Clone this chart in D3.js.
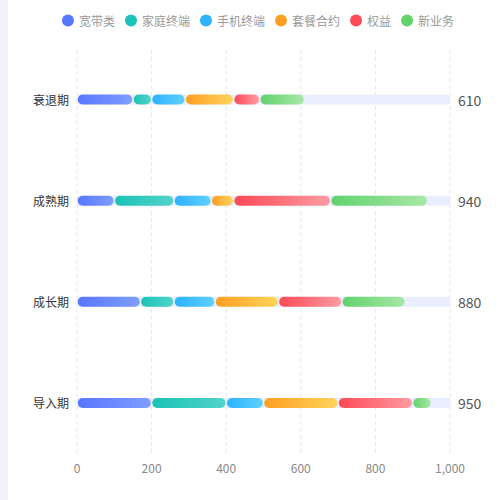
<!DOCTYPE html>
<html><head><meta charset="utf-8">
<script src="https://cdn.jsdelivr.net/npm/d3@7/dist/d3.min.js"></script>
<style>html,body{margin:0;padding:0;background:#fff;}svg{display:block;font-family:"Noto Sans CJK SC","Noto Sans",sans-serif;}</style>
</head><body>
<script>
const categories = ["导入期", "成长期", "成熟期", "衰退期"];
const seriesNames = ["宽带类", "家庭终端", "手机终端", "套餐合约", "权益", "新业务"];
const seriesValues = [
  [200, 170, 100, 150],
  [200, 90, 160, 50],
  [100, 110, 100, 90],
  [200, 170, 60, 130],
  [200, 170, 260, 70],
  [50, 170, 260, 120]
];
const totals = [950, 880, 940, 610];
const xTicks = [0, 200, 400, 600, 800, 1000];
const xMax = 1000;
const colorStops = [
  ["#5877ff", "#7f9dff"],
  ["#1bc2b6", "#52d3c8"],
  ["#2db2ff", "#5fd0ff"],
  ["#ff9f22", "#ffd45c"],
  ["#ff4a57", "#ff9ba2"],
  ["#62d26d", "#a8e7a6"]
];

(function () {
const W = 500, H = 500;
const svg = d3.select("body").append("svg").attr("width", W).attr("height", H);
svg.append("rect").attr("x", 0).attr("y", 0).attr("width", 8).attr("height", H).attr("fill", "#f2f3f8");

const gLeft = 77, gRight = 450, gTop = 49, gBottom = 453.5;
const x = d3.scaleLinear().domain([0, xMax]).range([gLeft, gRight]);
const y = d3.scaleBand().domain(categories.slice().reverse()).range([gTop, gBottom]);
const barH = 10;

const defs = svg.append("defs");
colorStops.forEach((c, i) => {
  const g = defs.append("linearGradient").attr("id", "g" + i).attr("x1", "0").attr("x2", "1").attr("y1", "0").attr("y2", "0");
  g.append("stop").attr("offset", "0%").attr("stop-color", c[0]);
  g.append("stop").attr("offset", "100%").attr("stop-color", c[1]);
});

// grid
svg.append("g").selectAll("line").data(xTicks).join("line")
  .attr("x1", d => x(d)).attr("x2", d => x(d)).attr("y1", gTop + 1).attr("y2", gBottom + 1)
  .attr("stroke", "#e0e6f1").attr("stroke-dasharray", "4,3").attr("stroke-width", 1);

// background bars
svg.append("g").selectAll("rect").data(categories).join("rect")
  .attr("x", x(0)).attr("width", x(xMax) - x(0))
  .attr("y", d => y(d) + y.bandwidth() / 2 - barH / 2).attr("height", barH)
  .attr("fill", "#e8eefd");

// stacked segments
categories.forEach((cat, ci) => {
  let acc = 0;
  seriesValues.forEach((vals, si) => {
    const v = vals[ci];
    const x0 = x(acc) + 0.75, x1 = x(acc + v) - 0.75;
    acc += v;
    svg.append("rect")
      .attr("x", x0).attr("width", Math.max(0, x1 - x0))
      .attr("y", y(cat) + y.bandwidth() / 2 - barH / 2).attr("height", barH)
      .attr("rx", 5).attr("ry", 5)
      .attr("fill", "url(#g" + si + ")");
  });
});

// category labels
svg.append("g").selectAll("text").data(categories).join("text")
  .attr("x", gLeft - 8).attr("y", d => y(d) + y.bandwidth() / 2)
  .attr("text-anchor", "end").attr("dominant-baseline", "central")
  .attr("font-size", 12).attr("fill", "#333").text(d => d);

// totals
svg.append("g").selectAll("text").data(categories).join("text")
  .attr("x", gRight + 8).attr("y", d => y(d) + y.bandwidth() / 2)
  .attr("dominant-baseline", "central")
  .attr("font-size", 14).attr("fill", "#555").text((d, i) => totals[i]);

// x axis labels
const fmt = d3.format(",");
svg.append("g").selectAll("text").data(xTicks).join("text")
  .attr("x", d => x(d)).attr("y", 467.5)
  .attr("text-anchor", "middle").attr("dominant-baseline", "central")
  .attr("font-size", 12).attr("fill", "#888").text(d => fmt(d));

// legend
const lg = svg.append("g");
const items = lg.selectAll("g").data(seriesNames).join("g");
items.append("circle").attr("r", 6).attr("cy", 0).attr("cx", 0).attr("fill", (d, i) => colorStops[i][0]);
items.append("text").attr("x", 11).attr("dominant-baseline", "central").attr("font-size", 12).attr("fill", "#999").text(d => d);
let pos = 0;
const positions = [];
items.each(function () {
  const tw = d3.select(this).select("text").node().getComputedTextLength();
  positions.push(pos);
  pos += 11 + tw + 16;
});
const totalW = pos - 16 + 6;
const startX = 258 - totalW / 2 + 6;
items.attr("transform", (d, i) => `translate(${startX + positions[i]},20.5)`);
})();
</script>
</body></html>
